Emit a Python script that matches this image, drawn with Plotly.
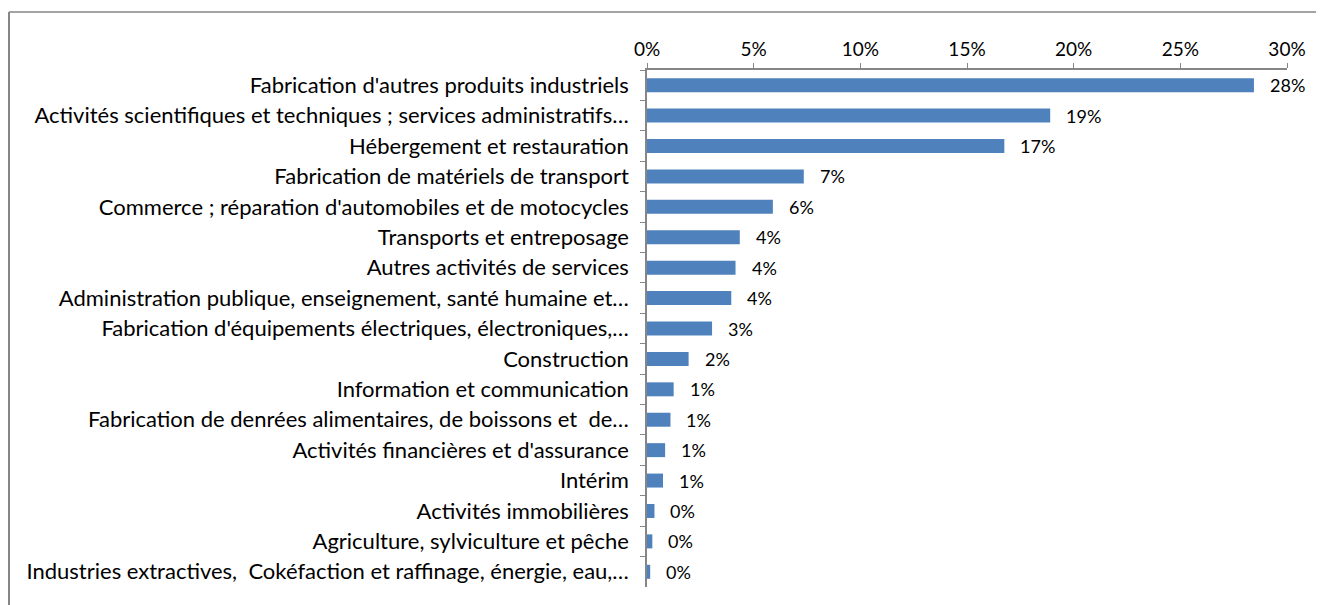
import plotly.graph_objects as go

# Données (part en %)
secteurs = [
    "Fabrication d'autres produits industriels",
    "Activités scientifiques et techniques ; services administratifs…",
    "Hébergement et restauration",
    "Fabrication de matériels de transport",
    "Commerce ; réparation d'automobiles et de motocycles",
    "Transports et entreposage",
    "Autres activités de services",
    "Administration publique, enseignement, santé humaine et…",
    "Fabrication d'équipements électriques, électroniques,…",
    "Construction",
    "Information et communication",
    "Fabrication de denrées alimentaires, de boissons et  de…",
    "Activités financières et d'assurance",
    "Intérim",
    "Activités immobilières",
    "Agriculture, sylviculture et pêche",
    "Industries extractives,  Cokéfaction et raffinage, énergie, eau,…",
]
parts = [28.45, 18.9, 16.75, 7.35, 5.9, 4.35, 4.15, 3.95, 3.05,
         1.95, 1.25, 1.1, 0.85, 0.75, 0.35, 0.25, 0.15]

x_ticks = [0, 5, 10, 15, 20, 25, 30]

COLOR_BAR = "#4F81BD"
COLOR_AXIS = "#868686"
FONT = "Lato, 'Liberation Sans', sans-serif"

# la page ajoute une marge de 8 px autour de la figure
W, H = 1316, 597
M_L, M_R, M_T, M_B = 639, 37, 62, 18
PW, PH = W - M_L - M_R, H - M_T - M_B

valeurs = [p / 100 for p in parts]

fig = go.Figure(
    go.Bar(
        x=valeurs, y=secteurs,
        orientation="h",
        marker=dict(color=COLOR_BAR, line=dict(width=0)),
        hoverinfo="x+y",
    )
)

# étiquettes de valeur
for v, s in zip(valeurs, secteurs):
    fig.add_annotation(
        x=v, y=s, text=f"{v*100:.0f}%",
        xanchor="left", yanchor="middle", xshift=14, showarrow=False,
        font=dict(size=18, color="#000000", family=FONT),
    )

# cadre du graphique (style Excel : bord haut et gauche visibles)
x0 = (1 - M_L) / PW
y0 = 1 + (M_T - 4) / PH
fig.add_shape(type="line", xref="paper", yref="paper",
              x0=x0, x1=(W + 10 - M_L) / PW, y0=y0, y1=y0,
              line=dict(color=COLOR_AXIS, width=1.5))
fig.add_shape(type="line", xref="paper", yref="paper",
              x0=x0, x1=x0, y0=y0, y1=-(M_B + 10) / PH,
              line=dict(color=COLOR_AXIS, width=2))

fig.update_layout(
    width=W, height=H,
    margin=dict(l=M_L, r=M_R, t=M_T, b=M_B),
    paper_bgcolor="white",
    plot_bgcolor="white",
    font=dict(family=FONT, size=18, color="#000000"),
    bargap=0.54,
    showlegend=False,
    xaxis=dict(
        side="top", range=[0, 0.30],
        tickvals=[t / 100 for t in x_ticks],
        ticktext=[f"{t}%" for t in x_ticks],
        ticks="outside", ticklen=5, tickcolor=COLOR_AXIS,
        showline=True, linecolor=COLOR_AXIS, linewidth=1.5,
        showgrid=False, zeroline=False,
        tickfont=dict(size=19),
    ),
    yaxis=dict(
        autorange="reversed",
        tickson="boundaries",
        ticks="outside", ticklen=5, tickcolor=COLOR_AXIS,
        showline=True, linecolor=COLOR_AXIS, linewidth=1.5,
        showgrid=False, zeroline=False,
        ticklabelstandoff=12,
        tickfont=dict(size=22),
    ),
)

fig.write_html("out.html")
